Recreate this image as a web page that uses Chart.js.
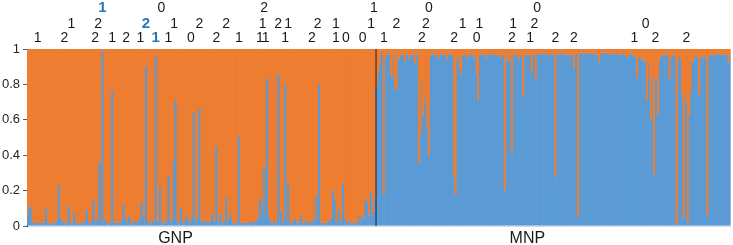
<!DOCTYPE html>
<html>
<head>
<meta charset="utf-8">
<script src="https://cdn.jsdelivr.net/npm/chart.js@4.4.1/dist/chart.umd.min.js"></script>
<style>
  html, body { margin: 0; padding: 0; background: #fff; }
  #wrap { width: 733px; height: 245px; }
</style>
</head>
<body>
<div id="wrap"><canvas id="structureChart" width="733" height="245"></canvas></div>
<script>
/* ===============================
   DATA
================================ */
const groupNames = ["GNP", "MNP"];

// GNP individuals: share of the blue cluster (rest is orange)
const gnpBlue = [
  0.05, 0.10, 0.115, 0.02, 0.01, 0.01, 0.02, 0.025, 0.01, 0.01, 0.02, 0.01, 0.02, 0.10, 0.02, 0.01, 0.01, 0.015, 0.02, 0.01,
  0.02, 0.03, 0.23, 0.04, 0.02, 0.03, 0.02, 0.01, 0.02, 0.115, 0.02, 0.01, 0.02, 0.075, 0.02, 0.01, 0.015, 0.01, 0.02, 0.01,
  0.02, 0.03, 0.09, 0.02, 0.01, 0.02, 0.03, 0.15, 0.02, 0.03, 0.04, 0.36, 0.02, 0.985, 0.02, 0.035, 0.01, 0.01, 0.02, 0.02,
  0.765, 0.02, 0.01, 0.02, 0.02, 0.01, 0.02, 0.03, 0.12, 0.05, 0.02, 0.03, 0.055, 0.02, 0.01, 0.02, 0.03, 0.01, 0.02, 0.04,
  0.03, 0.135, 0.06, 0.02, 0.905, 0.03, 0.02, 0.01, 0.02, 0.03, 0.02, 0.96, 0.03, 0.02, 0.22, 0.02, 0.01, 0.02, 0.03, 0.02,
  0.285, 0.03, 0.02, 0.04, 0.37, 0.71, 0.03, 0.02, 0.01, 0.10, 0.02, 0.01, 0.03, 0.06, 0.02, 0.03, 0.02, 0.05, 0.645, 0.03,
  0.02, 0.05, 0.665, 0.02, 0.03, 0.02, 0.03, 0.02, 0.01, 0.02, 0.03, 0.07, 0.02, 0.03, 0.455, 0.03, 0.02, 0.07, 0.02, 0.01,
  0.03, 0.165, 0.02, 0.04, 0.07, 0.02, 0.01, 0.02, 0.01, 0.02, 0.51, 0.02, 0.01, 0.01, 0.02, 0.01, 0.02, 0.01, 0.02, 0.03,
  0.02, 0.01, 0.02, 0.03, 0.05, 0.155, 0.04, 0.12, 0.33, 0.06, 0.835, 0.05, 0.03, 0.02, 0.02, 0.01, 0.02, 0.03, 0.862, 0.02,
  0.08, 0.02, 0.03, 0.80, 0.03, 0.235, 0.02, 0.01, 0.02, 0.03, 0.04, 0.02, 0.01, 0.02, 0.06, 0.02, 0.01, 0.02, 0.03, 0.02,
  0.01, 0.02, 0.03, 0.02, 0.04, 0.17, 0.03, 0.80, 0.02, 0.01, 0.02, 0.01, 0.01, 0.02, 0.03, 0.02, 0.04, 0.20, 0.15, 0.03,
  0.02, 0.09, 0.02, 0.03, 0.24, 0.05, 0.02, 0.01, 0.03, 0.02, 0.01, 0.01, 0.02, 0.01, 0.02, 0.03, 0.06, 0.02, 0.04, 0.05,
  0.15, 0.13, 0.05, 0.06, 0.19, 0.06, 0.08, 0.15
];

// MNP individuals: share of the orange cluster (rest is blue)
const mnpOrange = [
  0.21, 0.14, 0.08, 0.01, 0.03, 0.82, 0.05, 0.03, 0.02, 0.03, 0.14, 0.16, 0.03, 0.23, 0.22, 0.02, 0.06, 0.03, 0.02, 0.04,
  0.07, 0.03, 0.02, 0.05, 0.03, 0.04, 0.02, 0.08, 0.02, 0.03, 0.645, 0.48, 0.16, 0.37, 0.25, 0.31, 0.44, 0.60, 0.04, 0.03,
  0.02, 0.03, 0.04, 0.02, 0.05, 0.03, 0.02, 0.04, 0.03, 0.02, 0.06, 0.03, 0.02, 0.03, 0.04, 0.72, 0.825, 0.05, 0.03, 0.10,
  0.14, 0.03, 0.04, 0.02, 0.05, 0.03, 0.04, 0.02, 0.03, 0.05, 0.03, 0.14, 0.29, 0.03, 0.02, 0.03, 0.04, 0.02, 0.05, 0.03,
  0.02, 0.03, 0.02, 0.04, 0.03, 0.02, 0.04, 0.03, 0.05, 0.03, 0.04, 0.80, 0.06, 0.03, 0.07, 0.04, 0.585, 0.04, 0.03, 0.02,
  0.04, 0.06, 0.03, 0.04, 0.27, 0.03, 0.04, 0.02, 0.04, 0.03, 0.13, 0.03, 0.02, 0.17, 0.03, 0.02, 0.03, 0.02, 0.03, 0.02,
  0.03, 0.02, 0.03, 0.04, 0.02, 0.03, 0.02, 0.72, 0.03, 0.02, 0.03, 0.02, 0.03, 0.02, 0.03, 0.04, 0.02, 0.03, 0.04, 0.03,
  0.11, 0.03, 0.02, 0.95, 0.03, 0.02, 0.02, 0.03, 0.02, 0.02, 0.03, 0.02, 0.03, 0.02, 0.03, 0.02, 0.03, 0.04, 0.075, 0.02,
  0.03, 0.02, 0.02, 0.03, 0.02, 0.03, 0.02, 0.03, 0.02, 0.03, 0.02, 0.03, 0.04, 0.02, 0.03, 0.02, 0.03, 0.04, 0.05, 0.03,
  0.02, 0.03, 0.04, 0.03, 0.05, 0.16, 0.05, 0.04, 0.06, 0.05, 0.07, 0.06, 0.29, 0.08, 0.17, 0.40, 0.15, 0.71, 0.17, 0.15,
  0.37, 0.06, 0.04, 0.03, 0.04, 0.02, 0.03, 0.04, 0.17, 0.05, 0.03, 0.04, 0.03, 0.99, 0.07, 0.04, 0.05, 0.25, 0.95, 0.26,
  0.30, 0.98, 0.37, 0.24, 0.06, 0.07, 0.04, 0.03, 0.05, 0.26, 0.05, 0.04, 0.05, 0.04, 0.05, 0.94, 0.04, 0.03, 0.03, 0.04,
  0.03, 0.04, 0.03, 0.02, 0.03, 0.04, 0.03, 0.02, 0.03, 0.04, 0.075, 0.03
];

// numbers written above single individuals (bar index, text), three rows
const row1Bars = [53, 95, 168, 246, 285, 362];
const row1Text = ["1", "0", "2", "1", "0", "0"];
const row2Bars = [31, 50, 84, 104, 122, 141, 167, 178, 185, 206, 219, 244, 262, 283, 309, 321, 345, 360, 439];
const row2Text = ["1", "2", "2", "1", "2", "2", "1", "2", "1", "2", "1", "1", "2", "2", "1", "1", "1", "2", "0"];
const row3Bars = [7, 26, 48, 60, 70, 80, 91, 100, 116, 134, 150, 165, 169, 183, 202, 219, 226, 238, 253, 280, 303, 319, 344, 357, 375, 388, 431, 446, 468];
const row3Text = ["1", "2", "2", "1", "2", "1", "1", "1", "0", "2", "1", "1", "1", "1", "2", "1", "0", "0", "1", "2", "2", "0", "2", "1", "2", "2", "1", "2", "2"];
// annotations drawn in bold blue: "row:bar"
const highlighted = ["1:53", "2:84", "3:91"];

const yTicks = [0, 0.2, 0.4, 0.6, 0.8, 1];

/* ===============================
   STYLE
================================ */
const BLUE = "#5B9BD5";
const ORANGE = "#ED7D31";
const HILITE = "#2E75B6";
const TEXT = "#1a1a1a";
const FONT = "'Liberation Sans', Arial, sans-serif";
const ROW_BASELINE = [12, 28, 42];
const GROUP_LABEL_FRAC = 0.425;
const BAR_WIDTH = 1.5;   // >1 so neighbouring thin bars overlap (no white seams)

/* ===============================
   BUILD SERIES
   floating bars [from, to] so each group can keep its minor cluster on top
================================ */
const nG = gnpBlue.length;
const nM = mnpOrange.length;
const total = nG + nM;
const labels = Array.from({ length: total }, (_, i) => String(i + 1));

const pad = n => Array(n).fill(null);
const gnpBlueBars = gnpBlue.map(b => [0, b]).concat(pad(nM));
const gnpOrangeBars = gnpBlue.map(b => [b, 1]).concat(pad(nM));
const mnpBlueBars = pad(nG).concat(mnpOrange.map(o => [0, +(1 - o).toFixed(3)]));
const mnpOrangeBars = pad(nG).concat(mnpOrange.map(o => [+(1 - o).toFixed(3), 1]));

const groupLabelAt = {};
let start = 0;
[nG, nM].forEach((n, g) => {
  groupLabelAt[start + Math.round(n * GROUP_LABEL_FRAC)] = groupNames[g];
  start += n;
});

const annotations = [];
[[row1Bars, row1Text], [row2Bars, row2Text], [row3Bars, row3Text]].forEach(([bars, texts], r) => {
  bars.forEach((b, k) => {
    annotations.push({ bar: b, row: r, text: texts[k], hi: highlighted.includes(`${r + 1}:${b}`) });
  });
});

/* ===============================
   PLUGINS
================================ */
const dividerPlugin = {
  id: "divider",
  afterDatasetsDraw(chart) {
    const { ctx, chartArea, scales } = chart;
    const x = (scales.x.getPixelForValue(nG - 1) + scales.x.getPixelForValue(nG)) / 2;
    ctx.save();
    ctx.strokeStyle = "rgba(45,45,45,0.85)";
    ctx.lineWidth = 1.3;
    ctx.beginPath();
    ctx.moveTo(x, chartArea.top);
    ctx.lineTo(x, chartArea.bottom);
    ctx.stroke();
    ctx.restore();
  }
};

const annotationPlugin = {
  id: "topNumbers",
  afterDraw(chart) {
    const { ctx, scales } = chart;
    ctx.save();
    ctx.textAlign = "center";
    ctx.textBaseline = "alphabetic";
    annotations.forEach(a => {
      ctx.font = a.hi ? `bold 15px ${FONT}` : `14px ${FONT}`;
      ctx.fillStyle = a.hi ? HILITE : TEXT;
      ctx.fillText(a.text, scales.x.getPixelForValue(a.bar), ROW_BASELINE[a.row]);
    });
    ctx.restore();
  }
};

/* ===============================
   CHART
================================ */
const ctx = document.getElementById("structureChart").getContext("2d");

// higher order is painted first (underneath)
const barSet = (label, data, color, order) => ({
  label, data, order,
  backgroundColor: color,
  grouped: false,
  barPercentage: BAR_WIDTH,
  categoryPercentage: 1,
  borderWidth: 0,
  inflateAmount: 0
});

new Chart(ctx, {
  type: "bar",
  data: {
    labels: labels,
    datasets: [
      barSet("GNP cluster 2", gnpOrangeBars, ORANGE, 4),
      barSet("GNP cluster 1", gnpBlueBars, BLUE, 3),
      barSet("MNP cluster 1", mnpBlueBars, BLUE, 2),
      barSet("MNP cluster 2", mnpOrangeBars, ORANGE, 1)
    ]
  },
  options: {
    responsive: false,
    animation: false,
    devicePixelRatio: 1,
    layout: { padding: { top: 49, right: 1, left: 0, bottom: 0 } },
    plugins: {
      legend: { display: false },
      tooltip: { enabled: false }
    },
    scales: {
      x: {
        grid: { display: false, drawTicks: false },
        border: { display: true, color: "#d9d9d9", width: 1 },
        ticks: {
          autoSkip: false,
          maxRotation: 0,
          minRotation: 0,
          padding: 3,
          color: TEXT,
          font: { family: FONT, size: 16 },
          callback: (v, i) => groupLabelAt[i] || ""
        },
        afterFit: axis => { axis.height = 19; }
      },
      y: {
        min: 0,
        max: 1,
        grid: { drawOnChartArea: false, drawTicks: true, tickLength: 4, color: "#595959" },
        border: { display: true, color: "#404040", width: 1 },
        ticks: {
          stepSize: 0.1,
          padding: 3,
          color: "#262626",
          font: { family: FONT, size: 13 },
          callback: v => {
            const t = Math.round(v * 10) / 10;
            return yTicks.some(y => Math.abs(y - t) < 1e-6) ? String(t) : "";
          }
        },
        afterFit: axis => { axis.width = 27; }
      }
    }
  },
  plugins: [dividerPlugin, annotationPlugin]
});
</script>
</body>
</html>
